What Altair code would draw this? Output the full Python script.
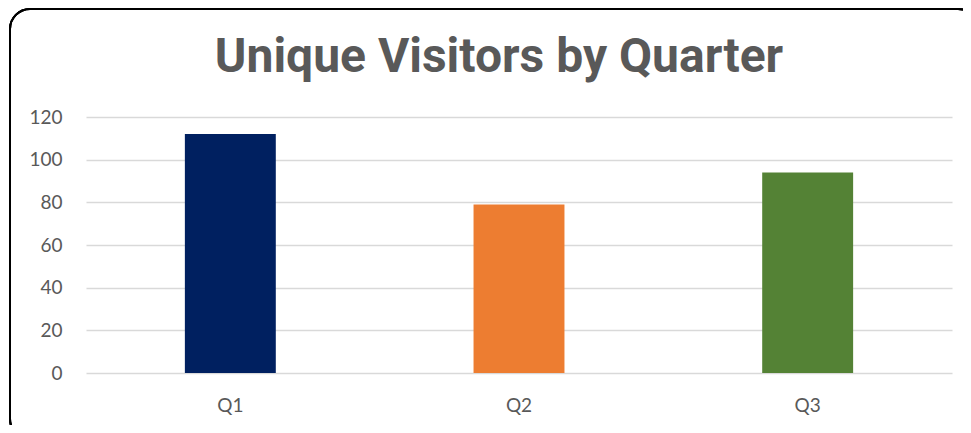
import altair as alt
import pandas as pd

title_text = "Unique Visitors by Quarter"
quarters = ["Q1", "Q2", "Q3"]
visitors = [112, 79, 94]
colors = ["#002060", "#ED7D31", "#548235"]
y_ticks = [0, 20, 40, 60, 80, 100, 120]

df = pd.DataFrame({"quarter": quarters, "visitors": visitors})

bars = alt.Chart(df).mark_bar().encode(
    x=alt.X(
        "quarter:N",
        sort=quarters,
        scale=alt.Scale(paddingInner=0.685, paddingOuter=0.3425),
        axis=alt.Axis(
            title=None, labelAngle=0, ticks=False, domain=False,
            labelFont="Lato", labelFontSize=19, labelColor="#595959",
            labelPadding=23,
        ),
    ),
    y=alt.Y(
        "visitors:Q",
        scale=alt.Scale(domain=[0, 120], nice=False),
        axis=alt.Axis(
            title=None, values=y_ticks, ticks=False, domain=False,
            labelFont="Lato", labelFontSize=19, labelColor="#595959",
            labelPadding=24, gridColor="#d9d9d9", gridWidth=1.3,
        ),
    ),
    color=alt.Color(
        "quarter:N",
        scale=alt.Scale(domain=quarters, range=colors),
        legend=None,
    ),
)

border = alt.Chart(df).mark_rect(
    filled=False, stroke="black", strokeWidth=2, cornerRadius=20
).encode(
    x=alt.value(-76), x2=alt.value(892),
    y=alt.value(-108), y2=alt.value(322),
)

title = alt.Chart(pd.DataFrame({"t": [title_text]})).mark_text(
    font="Roboto", fontSize=48, fontWeight="bold", color="#595959",
    align="center", baseline="alphabetic",
).encode(
    text="t:N",
    x=alt.value(413),
    y=alt.value(-45),
)

chart = alt.layer(border, bars, title).properties(
    width=866,
    height=256,
    padding={"left": 78, "top": 109, "right": 11, "bottom": 52},
    autosize=alt.AutoSizeParams(type="none"),
).configure(background="white").configure_view(stroke=None)

chart.save("out.html", embed_options={"renderer": "svg", "actions": False})
